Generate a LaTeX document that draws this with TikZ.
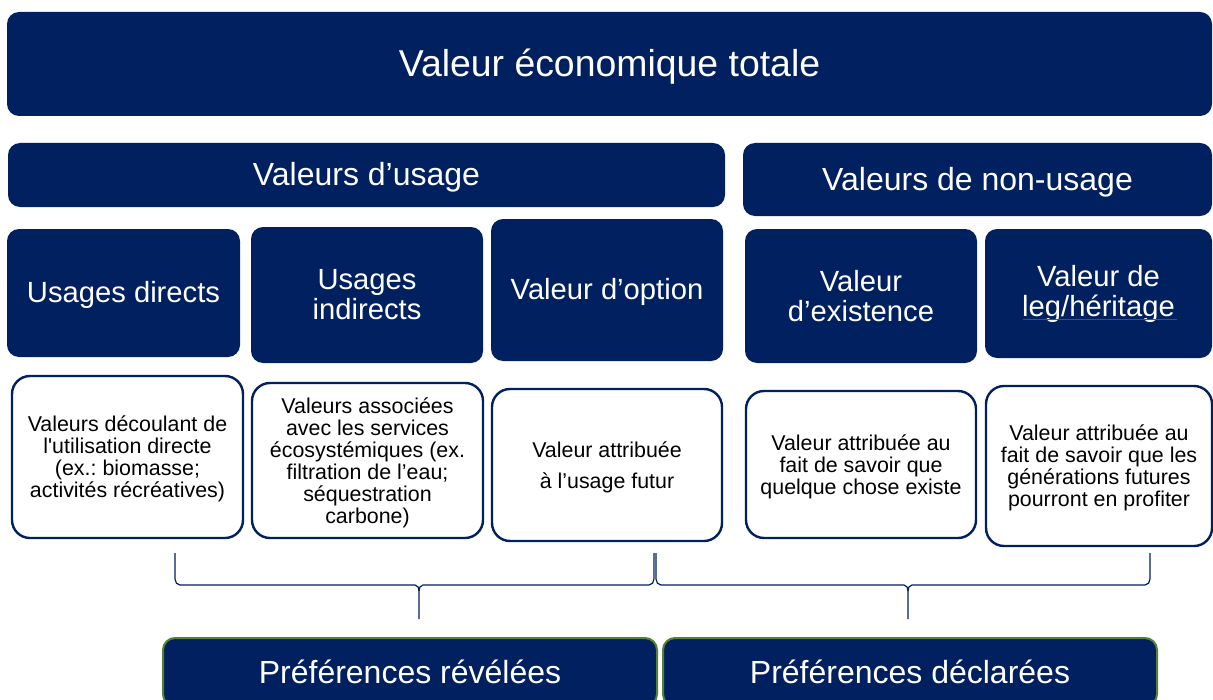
\documentclass[tikz,border=0pt]{standalone}
\usepackage{fontspec}
\setmainfont{Liberation Sans}
\usetikzlibrary{calc}
\frenchspacing
\definecolor{navy}{HTML}{002060}
\definecolor{prefgreen}{HTML}{548235}
\definecolor{spellred}{HTML}{9B2D4A}
\begin{document}
\begin{tikzpicture}[x=0.5pt,y=-0.5pt,
  navybox/.style={fill=navy, draw=none, rounded corners=6pt, text=white, align=center, inner sep=0pt},
  oneline/.style={text depth=0.1em},
  whitebox/.style={fill=white, draw=navy, line width=1.2pt, rounded corners=9pt, text=black, align=center, inner sep=0pt, text depth=0pt},
  prefbox/.style={fill=navy, draw=prefgreen, line width=1pt, rounded corners=6pt, text=white, align=center, inner sep=0pt},
  titlefont/.style={font=\fontsize{18.7}{22}\selectfont},
  hdrfont/.style={font=\fontsize{16}{19}\selectfont},
  subfont/.style={font=\fontsize{14.6}{15}\selectfont},
  smallfont/.style={font=\fontsize{10.7}{11}\selectfont},
  brace/.style={draw=navy, line width=0.6pt}
]
\useasboundingbox (0,0) rectangle (1213,700);

% top
\node[navybox, oneline, titlefont, minimum width=602.5pt, minimum height=52pt] (tot) at (609.5,64) {Valeur économique totale};

% level 2
\node[navybox, oneline, hdrfont, minimum width=358.5pt, minimum height=32pt] (use) at (366.5,175) {Valeurs d’usage};
\node[navybox, oneline, hdrfont, minimum width=234.5pt, minimum height=36.5pt] (nonuse) at (977.5,179.5) {Valeurs de non-usage};

% level 3
\node[navybox, oneline, subfont, minimum width=116.5pt, minimum height=64pt] (direct) at (123.5,293) {Usages directs};
\node[navybox, subfont, minimum width=116pt, minimum height=68pt] (indirect) at (367,295) {Usages\\indirects};
\node[navybox, oneline, subfont, minimum width=116pt, minimum height=71pt] (option) at (607,290) {Valeur d’option};
\node[navybox, subfont, minimum width=116pt, minimum height=67pt] (exist) at (861,296) {Valeur\\d’existence};
\node[navybox, subfont, minimum width=113.5pt, minimum height=64.5pt] (legacy) at (1098.5,293.5) {Valeur de\\leg/héritage};
\draw[spellred, line width=0.5pt] (1023,319) -- (1177,319);

% descriptions
\node[whitebox, smallfont, minimum width=115.5pt, minimum height=81pt] (d1) at (127.5,457) {Valeurs découlant de\\l\textquotesingle utilisation directe\\(ex.: biomasse;\\activités récréatives)};
\node[whitebox, smallfont, minimum width=115.5pt, minimum height=77.5pt] (d2) at (367.5,460.5) {Valeurs associées\\avec les services\\écosystémiques (ex.\\filtration de l’eau;\\séquestration\\carbone)};
\node[whitebox, smallfont, minimum width=115pt, minimum height=76pt] (d3) at (607,465) {Valeur attribuée\\[4.5pt]à l’usage futur};
\node[whitebox, smallfont, minimum width=115pt, minimum height=73.5pt] (d4) at (861,464.5) {Valeur attribuée au\\fait de savoir que\\quelque chose existe};
\node[whitebox, smallfont, minimum width=113pt, minimum height=80pt] (d5) at (1099,466) {Valeur attribuée au\\fait de savoir que les\\générations futures\\pourront en profiter};

% braces
\coordinate (b1l) at (175,553);
\coordinate (b1r) at (654,553);
\coordinate (b1t) at (419,619);
\coordinate (b2l) at (656,553);
\coordinate (b2r) at (1150,553);
\coordinate (b2t) at (908,619);
\draw[brace] (b1l) -- ++(0,26) to[out=-90,in=180] ++(5,6) -- ($(b1t)+(-4,-34)$) to[out=0,in=90] ($(b1t)+(0,-28)$) -- (b1t);
\draw[brace] ($(b1t)+(0,-28)$) to[out=90,in=180] ($(b1t)+(4,-34)$) -- ($(b1r)+(-5,32)$) to[out=0,in=-90] ($(b1r)+(0,26)$) -- (b1r);
\draw[brace] (b2l) -- ++(0,26) to[out=-90,in=180] ++(5,6) -- ($(b2t)+(-4,-34)$) to[out=0,in=90] ($(b2t)+(0,-28)$) -- (b2t);
\draw[brace] ($(b2t)+(0,-28)$) to[out=90,in=180] ($(b2t)+(4,-34)$) -- ($(b2r)+(-5,32)$) to[out=0,in=-90] ($(b2r)+(0,26)$) -- (b2r);

% preferences
\node[prefbox, hdrfont, minimum width=247pt, minimum height=34pt] (revealed) at (410,672) {Préférences révélées};
\node[prefbox, hdrfont, minimum width=247pt, minimum height=34pt] (stated) at (910,672) {Préférences déclarées};
\end{tikzpicture}
\end{document}
